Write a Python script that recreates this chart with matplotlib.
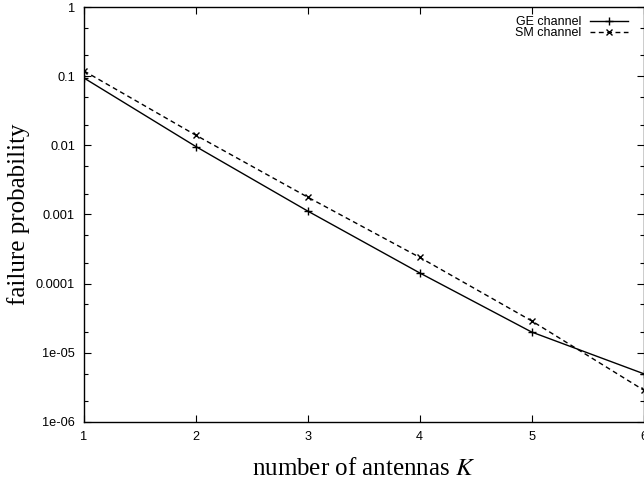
import matplotlib as mpl
import matplotlib.pyplot as plt
import numpy as np
from matplotlib.ticker import FixedLocator, LogLocator, NullFormatter

# Data
antennas = [1, 2, 3, 4, 5, 6]
ge_channel = [0.094, 0.0096, 0.00112, 0.000143, 2.0e-5, 5.0e-6]
sm_channel = [0.119, 0.0140, 0.00178, 0.00024, 2.9e-5, 2.9e-6]

y_ticks = [1, 0.1, 0.01, 0.001, 0.0001, 1e-5, 1e-6]
y_tick_labels = ['1', '0.1', '0.01', '0.001', '0.0001', '1e-05', '1e-06']

mpl.rcParams['mathtext.fontset'] = 'stix'
sans = 'Liberation Sans'
serif = 'Liberation Serif'

fig = plt.figure(figsize=(6.44, 4.84), dpi=100)
ax = fig.add_axes([84 / 644, 1 - 422 / 484, 559.5 / 644, 415 / 484])

ax.plot(antennas, ge_channel, color='black', lw=1.0, marker='+', ms=6,
        mew=1.0, label='GE channel')
ax.plot(antennas, sm_channel, color='black', lw=1.0, ls=(0, (3.5, 2.5)),
        marker='x', ms=5, mew=1.0, label='SM channel')

ax.set_yscale('log')
ax.set_xlim(1, 6)
ax.set_ylim(1e-6, 1)

ax.yaxis.set_major_locator(FixedLocator(y_ticks))
ax.set_yticklabels(y_tick_labels)
ax.yaxis.set_minor_locator(LogLocator(base=10, subs=(2.0, 5.0)))
ax.yaxis.set_minor_formatter(NullFormatter())
ax.set_xticks(antennas)
ax.set_xticklabels([str(k) for k in antennas])

ax.tick_params(which='both', direction='in', top=True, right=True,
               labelsize=9.2, width=0.8, pad=6.5)
ax.tick_params(which='major', length=5)
ax.tick_params(which='minor', length=3)
for lab in ax.get_xticklabels() + ax.get_yticklabels():
    lab.set_family(sans)

for sp in ax.spines.values():
    sp.set_linewidth(1.0)

ax.set_xlabel('number of antennas $K$', family=serif, fontsize=18)
ax.set_ylabel('failure probability', family=serif, fontsize=18)
ax.xaxis.set_label_coords(0.5, -0.087)
ax.yaxis.set_label_coords(-0.0965, 0.5)

leg = ax.legend(loc='upper right', bbox_to_anchor=(0.981, 0.99),
                frameon=False, markerfirst=False, borderaxespad=0,
                prop={'family': sans, 'size': 9}, handlelength=3.0,
                handletextpad=0.7, labelspacing=-0.1)
for t in leg.get_texts():
    t.set_ha('right')

fig.savefig('out.png', dpi=100)
